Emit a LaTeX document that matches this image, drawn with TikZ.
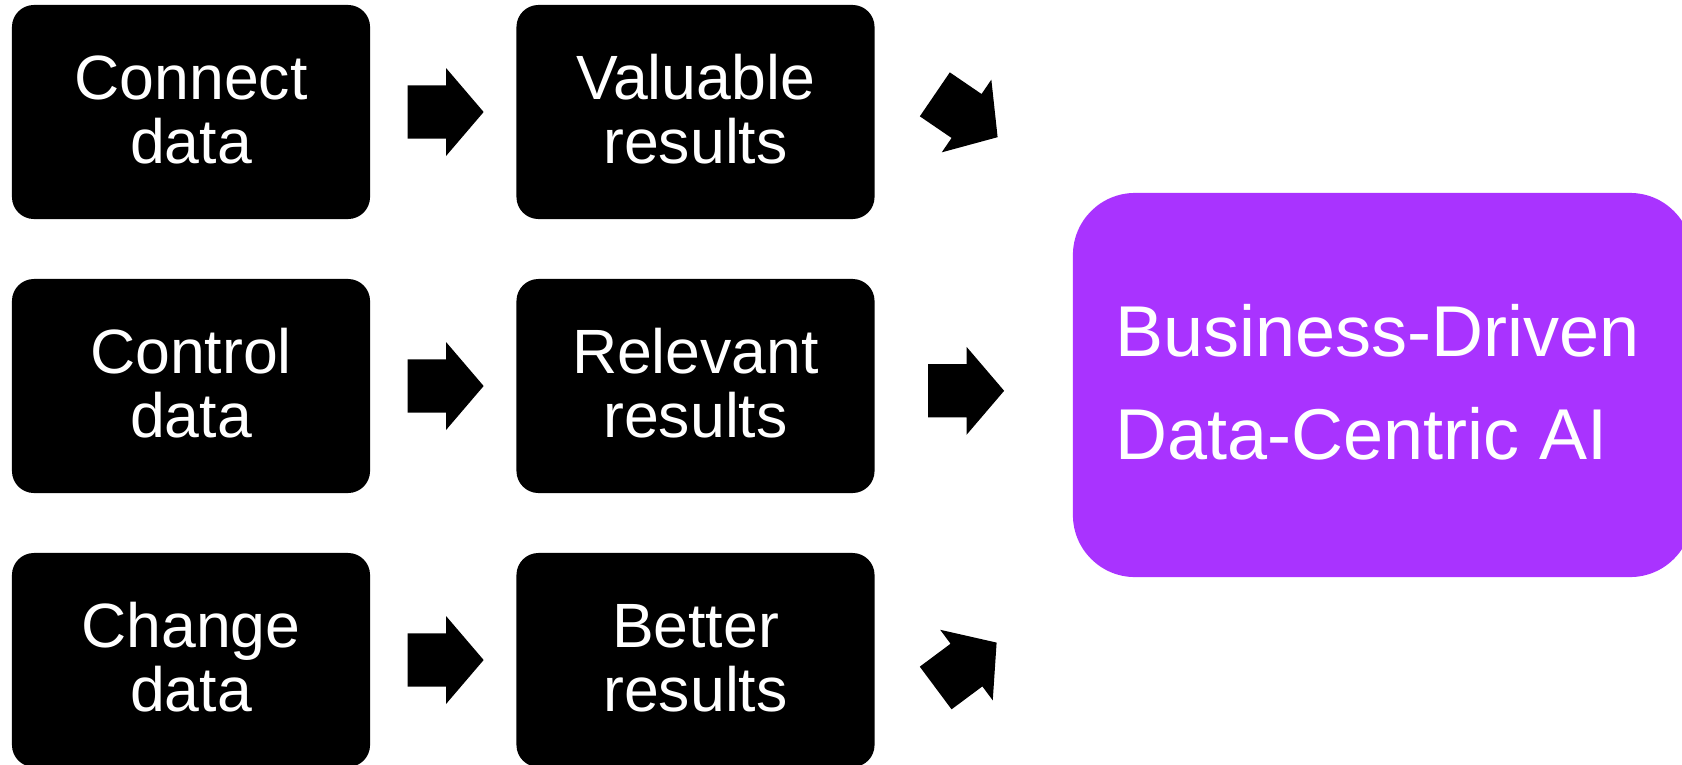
\documentclass[tikz,border=0pt]{standalone}
\usepackage{fontspec}
\setmainfont{Liberation Sans}
\usetikzlibrary{calc}
\definecolor{aipurple}{RGB}{169,51,255}
\begin{document}
\begin{tikzpicture}[x=0.025cm,y=-0.025cm,
  blk/.style={fill=black, rounded corners=0.55cm, minimum width=8.95cm, minimum height=5.35cm, inner sep=0pt, draw=none},
  goal/.style={fill=aipurple, rounded corners=1.55cm, minimum width=15.475cm, minimum height=9.6cm, inner sep=0pt, draw=none},
  txt/.style={text=white, font=\fontsize{44.5}{45.5}\selectfont, anchor=base, inner sep=0pt},
  gtxt/.style={text=white, font=\fontsize{51.2}{60}\selectfont, anchor=base west, inner sep=0pt},
  barrow/.pic={\fill[black] (0,-26.6) -- (38.4,-26.6) -- (38.4,-44) -- (76,0) -- (38.4,44) -- (38.4,26.6) -- (0,26.6) -- cycle;}
]
\useasboundingbox (0,0) rectangle (1682,764);
\clip (0,0) rectangle (1682,764);
\fill[white] (0,0) rectangle (1682,764);

% boxes
\node[blk] (b11) at (191,112) {};
\node[blk] (b21) at (191,386) {};
\node[blk] (b31) at (191,660) {};
\node[blk] (b12) at (695.5,112) {};
\node[blk] (b22) at (695.5,386) {};
\node[blk] (b32) at (695.5,660) {};
\node[goal] (g) at (1382.5,385) {};

% texts
\node[txt] (t11a) at ($(b11)+(0,-12.7)$) {Connect};
\node[txt] (t11b) at ($(b11)+(0,51.3)$) {data};
\node[txt] (t21a) at ($(b21)+(0,-12.7)$) {Control};
\node[txt] (t21b) at ($(b21)+(0,51.3)$) {data};
\node[txt] (t31a) at ($(b31)+(0,-12.7)$) {Change};
\node[txt] (t31b) at ($(b31)+(0,51.3)$) {data};
\node[txt] (t12a) at ($(b12)+(0,-12.7)$) {Valuable};
\node[txt] (t12b) at ($(b12)+(0,51.3)$) {results};
\node[txt] (t22a) at ($(b22)+(0,-12.7)$) {Relevant};
\node[txt] (t22b) at ($(b22)+(0,51.3)$) {results};
\node[txt] (t32a) at ($(b32)+(0,-12.7)$) {Better};
\node[txt] (t32b) at ($(b32)+(0,51.3)$) {results};
\node[gtxt] (gta) at (1115,356) {Business-Driven};
\node[gtxt] (gtb) at (1115,459) {Data-Centric AI};

% block arrows
\pic (a1) at ($(b11.east)+(37.3,0)$) {barrow};
\pic (a2) at ($(b21.east)+(37.3,0)$) {barrow};
\pic (a3) at ($(b31.east)+(37.3,0)$) {barrow};
\pic[rotate=-34.3] (a4) at ($(b12.east)+(60,-17.65)$) {barrow};
\pic (a5) at ($(b22.east)+(53.3,4.8)$) {barrow};
\pic[rotate=36.7] (a6) at ($(b32.east)+(60.85,28)$) {barrow};
\end{tikzpicture}
\end{document}
